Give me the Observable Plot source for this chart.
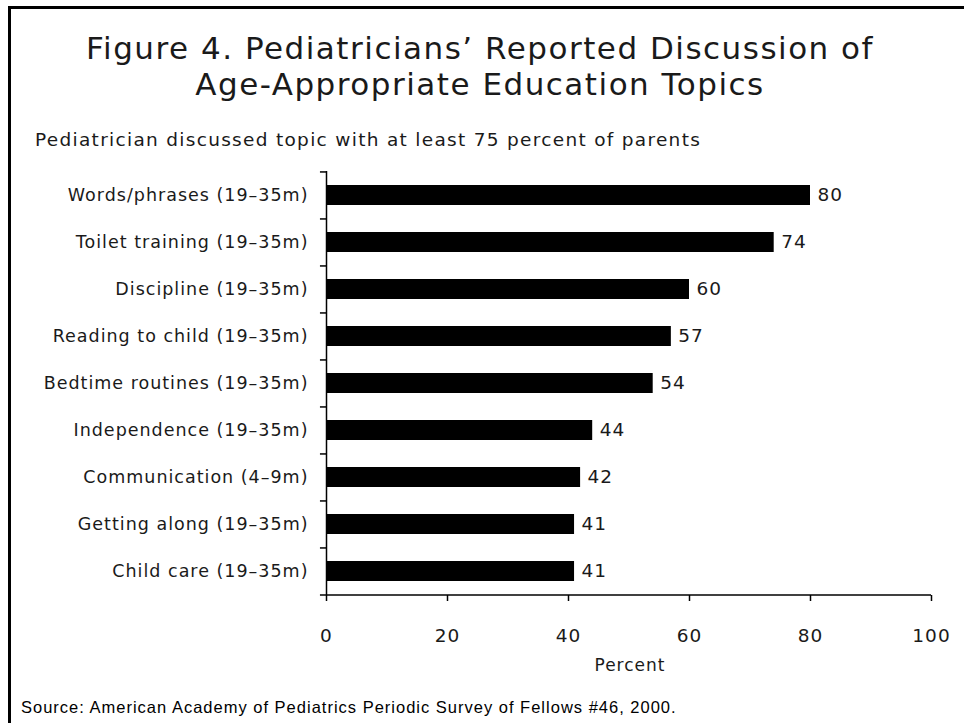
<!DOCTYPE html>
<html>
<head>
<meta charset="utf-8">
<script src="https://cdn.jsdelivr.net/npm/d3@7"></script>
<script src="https://cdn.jsdelivr.net/npm/@observablehq/plot@0.6"></script>
<style>
  html, body { margin: 0; padding: 0; background: #fff; }
  #page { position: relative; width: 964px; height: 723px; overflow: hidden; font-family: "DejaVu Sans", sans-serif; color: #1a1a1a; }
  #frame { position: absolute; left: 8px; top: 6px; width: 1100px; height: 900px; border-left: 3px solid #000; border-top: 3px solid #000; }
  #chart { position: absolute; left: 0; top: 0; }
  .title { position: absolute; left: 0; width: 960px; top: 29.5px; text-align: center; font-size: 31px; line-height: 36.5px; letter-spacing: 1.5px; }
  .subtitle { position: absolute; left: 35px; top: 131.3px; font-size: 18.5px; line-height: 18.5px; letter-spacing: 1.3px; white-space: nowrap; }
  .xlabel { position: absolute; left: 530px; width: 200px; top: 657.3px; text-align: center; font-size: 17px; line-height: 17px; letter-spacing: 1px; }
  .source { position: absolute; left: 21px; top: 698.7px; font-family: "Liberation Sans", Arial, sans-serif; font-size: 16.5px; line-height: 16.5px; letter-spacing: 1px; white-space: nowrap; color: #000; }
</style>
</head>
<body>
<div id="page">
  <div id="frame"></div>
  <div id="chart"></div>
  <div class="title">Figure 4. Pediatricians’ Reported Discussion of<br>Age-Appropriate Education Topics</div>
  <div class="subtitle">Pediatrician discussed topic with at least 75 percent of parents</div>
  <div class="xlabel">Percent</div>
  <div class="source">Source: American Academy of Pediatrics Periodic Survey of Fellows #46, 2000.</div>
</div>
<script>
const categories = [
  "Words/phrases (19–35m)",
  "Toilet training (19–35m)",
  "Discipline (19–35m)",
  "Reading to child (19–35m)",
  "Bedtime routines (19–35m)",
  "Independence (19–35m)",
  "Communication (4–9m)",
  "Getting along (19–35m)",
  "Child care (19–35m)"
];
const values = [80, 74, 60, 57, 54, 44, 42, 41, 41];
const xTicks = [0, 20, 40, 60, 80, 100];

const data = categories.map((topic, i) => ({topic, value: values[i]}));

const W = 964, H = 723;
const mTop = 171, mBottom = 128, mLeft = 326, mRight = 33;
const step = (H - mTop - mBottom) / categories.length;

const chart = Plot.plot({
  width: W,
  height: H,
  marginTop: mTop,
  marginBottom: mBottom,
  marginLeft: mLeft,
  marginRight: mRight,
  style: {fontFamily: "DejaVu Sans, sans-serif", fontSize: "18px", color: "#1a1a1a", background: "transparent", letterSpacing: "1px", overflow: "visible"},
  x: {domain: [0, 100]},
  y: {domain: categories, paddingInner: 0.575, paddingOuter: 0.2875},
  marks: [
    Plot.barX(data, {x: "value", y: "topic", fill: "#000"}),
    Plot.text(data, {x: "value", y: "topic", text: d => String(d.value), textAnchor: "start", dx: 7, fontSize: 18.5, fill: "#1a1a1a"}),
    Plot.ruleX([0], {stroke: "#000", strokeWidth: 1.5}),
    Plot.ruleY(categories, {y: d => d, x1: -1, x2: 0, dy: -step / 2, stroke: "#000", strokeWidth: 1.5}),
    Plot.ruleY(categories.slice(-1), {y: d => d, x1: -1, x2: 100, dy: step / 2, stroke: "#000", strokeWidth: 1.5}),
    Plot.axisX({ticks: xTicks, tickSize: 6, tickPadding: 27, label: null, fontSize: 18.5, stroke: "#000", strokeWidth: 1.5}),
    Plot.axisY({tickSize: 0, tickPadding: 18, label: null, fontSize: 17.5, style: {letterSpacing: "0.8px"}})
  ]
});
document.getElementById("chart").appendChild(chart);
</script>
</body>
</html>
